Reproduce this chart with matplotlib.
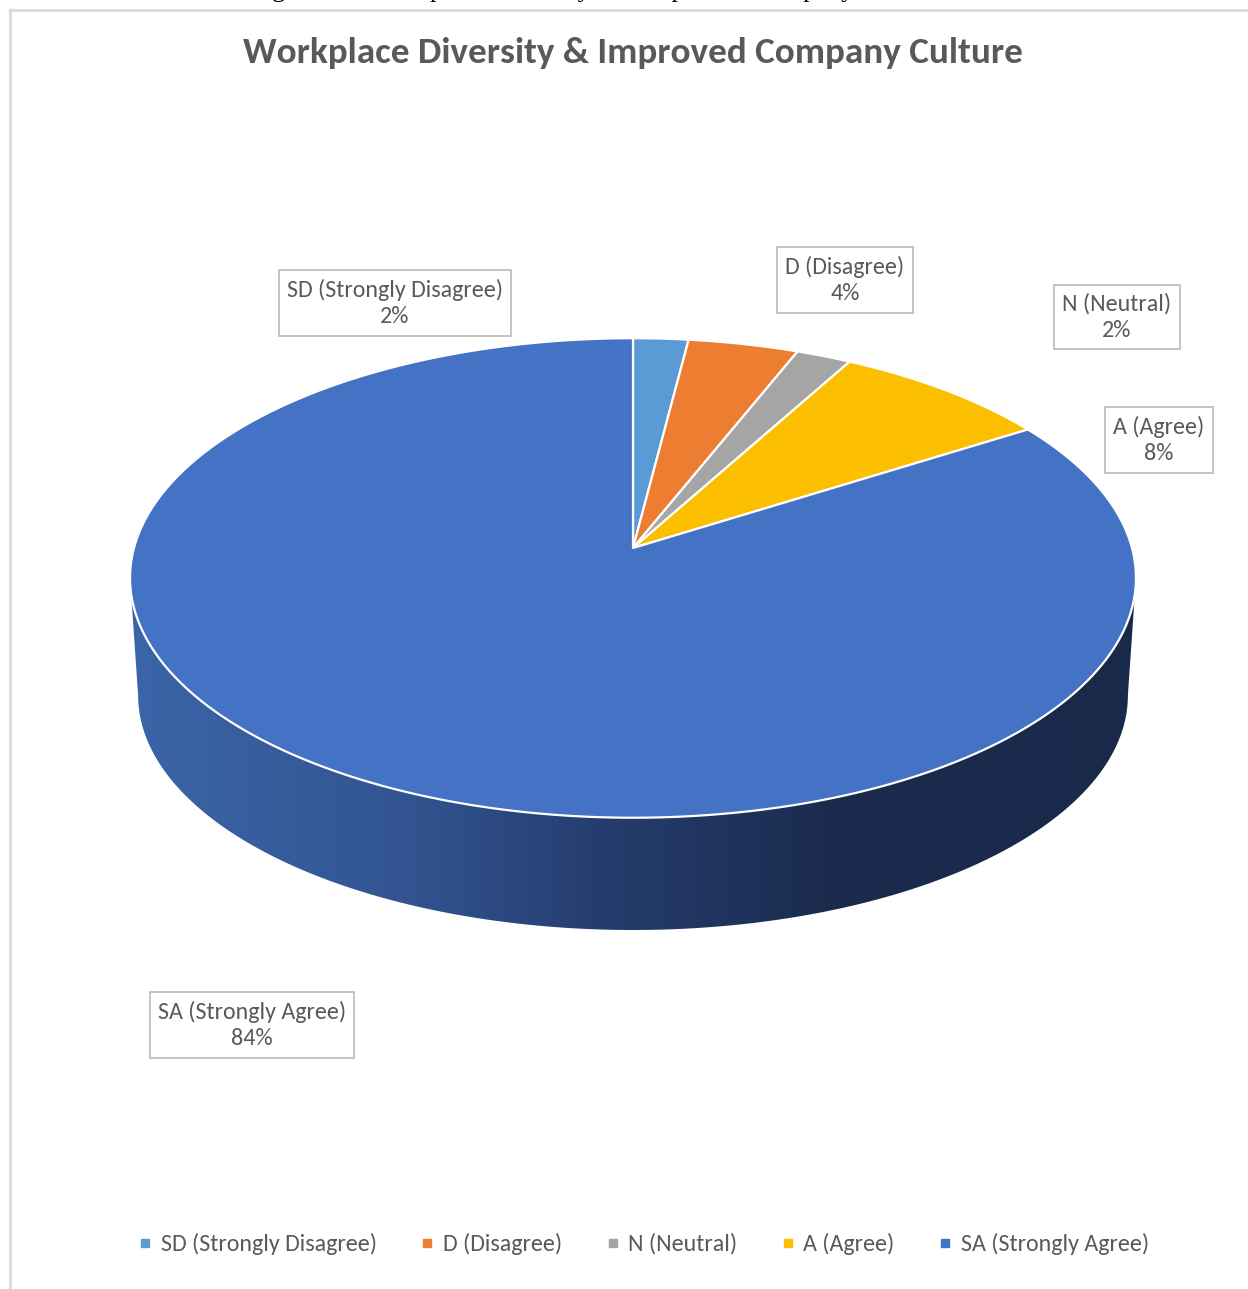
import numpy as np
import matplotlib
matplotlib.use("Agg")
import matplotlib.pyplot as plt
from matplotlib.patches import Polygon
from matplotlib.lines import Line2D

# Survey responses: share of respondents per answer (percent)
categories = ["SD (Strongly Disagree)", "D (Disagree)", "N (Neutral)",
              "A (Agree)", "SA (Strongly Agree)"]
shares = [2, 4, 2, 8, 84]
colors = ["#5B9BD5", "#ED7D31", "#A5A5A5", "#FBBF00", "#4472C4"]

title = "Workplace Diversity & Improved Company Culture"
caption = "Figure 4.8: Workplace Diversity and Improved Company Culture"

W, H = 1248, 1289
fig = plt.figure(figsize=(W / 100, H / 100), dpi=100)
ax = fig.add_axes([0, 0, 1, 1])
ax.axis("off")

TXT = "#595959"
FONT = "Carlito"

# perspective ellipse for the pie's top and bottom faces
K = 0.125
TOP = dict(cx=633, cy=548, a=499, b=236)
BOT = dict(cx=633, cy=666, a=491, b=231)


def rim(theta, cx, cy, a, b):
    u = np.sin(theta)
    v = -np.cos(theta)
    d = 1 - K * v
    return cx + a * u / d, cy + b * v / d


# side wall (only the front is visible)
t1 = np.arccos(-K)
ts = np.linspace(t1, 2 * np.pi - t1, 400)
xt, yt = rim(ts, **TOP)
xb, yb = rim(ts[::-1], **BOT)
side = Polygon(np.column_stack([np.r_[xt, xb], np.r_[yt, yb]]), closed=True,
               facecolor="none", edgecolor="none", zorder=1)
ax.add_patch(side)

# horizontal shading of the wall, lighter on the left
stops_x = [120, 400, 600, 830, 1150]
stops_c = np.array([[60, 101, 170], [50, 85, 145], [37, 61, 110],
                    [27, 43, 78], [25, 41, 74]]) / 255.0
gx = np.linspace(120, 1150, 600)
grad = np.stack([np.interp(gx, stops_x, stops_c[:, i]) for i in range(3)], axis=-1)
im = ax.imshow(grad[np.newaxis, :, :], extent=[120, 1150, 960, 560],
               aspect="auto", zorder=1, interpolation="bilinear")
im.set_clip_path(side)

# top face wedges, clockwise from 12 o'clock
fr = np.asarray(shares, float) / np.sum(shares)
edges = np.concatenate([[0.0], np.cumsum(fr)]) * 2 * np.pi
for a0, a1, c in zip(edges[:-1], edges[1:], colors):
    tt = np.linspace(a0, a1, max(int((a1 - a0) * 120), 8))
    x, y = rim(tt, **TOP)
    pts = np.column_stack([np.r_[TOP["cx"], x], np.r_[TOP["cy"], y]])
    ax.add_patch(Polygon(pts, closed=True, facecolor=c, edgecolor="white",
                         linewidth=1.6, joinstyle="round", zorder=3))

# data labels
label_pos = [(395, 303), (845, 280), (1117, 317), (1159, 440), (252, 1025)]
for (lx, ly), cat, s in zip(label_pos, categories, shares):
    ax.text(lx, ly, f"{cat}\n{s}%", ha="center", va="center", color=TXT,
            family=FONT, fontsize=17.3, linespacing=1.33, zorder=5,
            bbox=dict(boxstyle="square,pad=0.34", facecolor="white",
                      edgecolor="#BFBFBF", linewidth=1.3))

# title
ax.text(633, 53, title, ha="center", va="center", color=TXT,
        family=FONT, fontweight="bold", fontsize=26.7)

# caption running off the top edge
ax.text(595, -3.5, caption, ha="center", va="baseline", color="black",
        family="Liberation Serif", fontsize=19)

# chart frame
ax.add_line(Line2D([10, W], [10, 10], color="#D9D9D9", lw=2))
ax.add_line(Line2D([10, 10], [10, H], color="#D9D9D9", lw=2))

# legend
handles = [Line2D([], [], marker="s", ls="", color=c, markersize=5.5) for c in colors]
fig.legend(handles, categories, loc="center", bbox_to_anchor=(644 / W, 1 - 1244 / H),
           ncol=5, frameon=False, prop=dict(family=FONT, size=17.3),
           labelcolor=TXT, handlelength=0.5, handletextpad=0.4,
           columnspacing=1.85)

ax.set_xlim(0, W)
ax.set_ylim(H, 0)
fig.savefig("out.png", dpi=100, facecolor="white")
